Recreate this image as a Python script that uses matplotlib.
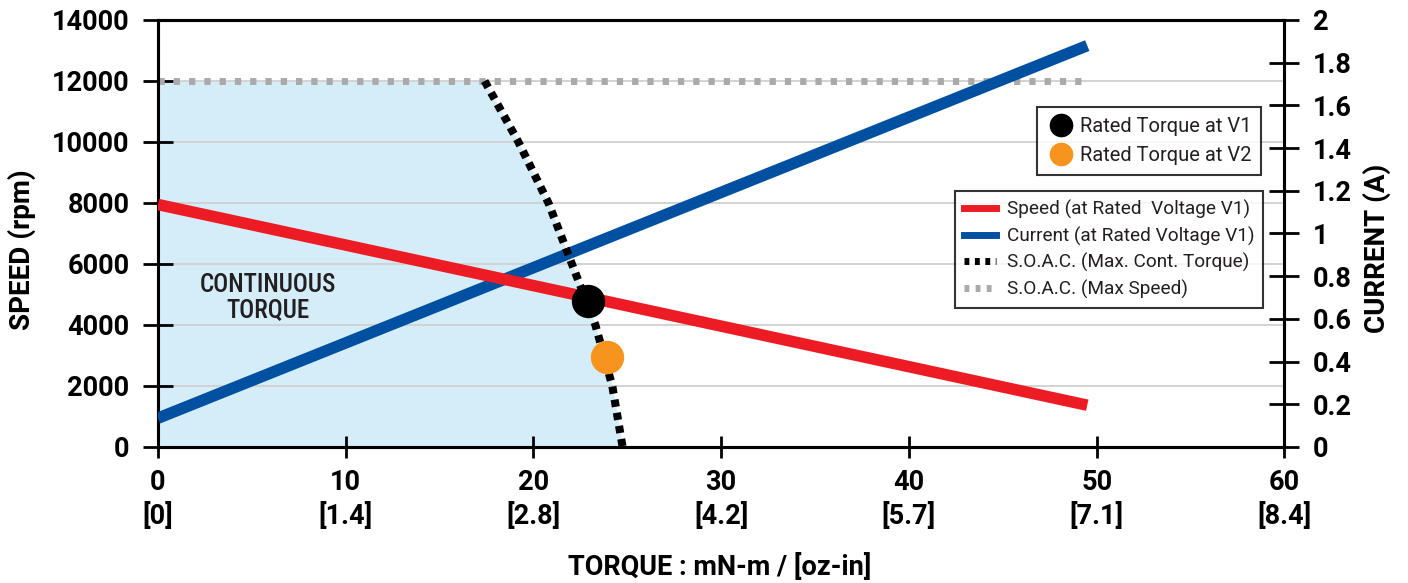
import matplotlib
matplotlib.use("Agg")
import matplotlib.pyplot as plt
from matplotlib.lines import Line2D

plt.rcParams['font.family'] = ['Roboto', 'DejaVu Sans']

# data
torque = [0, 49.5]
speed = [7950, 1370]
current = [0.135, 1.88]
max_speed_torque = [0, 49.5]
max_speed = [12000, 12000]
cont_torque = [17.4, 19.2, 20.8, 22.05, 23.3, 24.2, 24.75]
cont_speed = [12000, 10000, 8000, 6000, 4000, 2000, 0]
rated_v1 = (22.9, 4780)
rated_v2 = (23.9, 2940)

x_ticks = [0, 10, 20, 30, 40, 50, 60]
x_oz = ['[0]', '[1.4]', '[2.8]', '[4.2]', '[5.7]', '[7.1]', '[8.4]']
speed_ticks = [0, 2000, 4000, 6000, 8000, 10000, 12000, 14000]
current_ticks = [0, 0.2, 0.4, 0.6, 0.8, 1, 1.2, 1.4, 1.6, 1.8, 2]
current_labels = ['0', '0.2', '0.4', '0.6', '0.8', '1', '1.2', '1.4',
                  '1.6', '1.8', '2']

RED = '#ed1c24'
BLUE = '#0050a2'
ORANGE = '#f7941d'
GRAY = '#aaaaaa'
FILL = '#d4edf9'
TXT = '#231f20'

fig = plt.figure(figsize=(14.08, 5.83), dpi=100)
ax = fig.add_axes([0.1122, 0.2333, 0.8, 0.7324])
ax2 = ax.twinx()
ax.set_zorder(ax2.get_zorder() + 1)
ax.patch.set_visible(False)

ax.set_xlim(0, 60)
ax.set_ylim(0, 14000)
ax2.set_ylim(0, 2)

# continuous torque region
ax.fill_betweenx(cont_speed, 0, cont_torque, color=FILL, lw=0, zorder=0.5)
ax.yaxis.grid(True, color='#d0d0d0', lw=1.3, zorder=0.8)
ax.set_axisbelow(True)

ax.plot(max_speed_torque, max_speed, color=GRAY, lw=5, dashes=(0.9, 1.3),
        solid_capstyle='butt', zorder=2)
ax.plot(torque, current, color=BLUE, lw=8.3, transform=ax2.transData,
        solid_capstyle='butt', zorder=3)
ax.plot(torque, speed, color=RED, lw=8.3, solid_capstyle='butt', zorder=4)
ax.plot(cont_torque, cont_speed, color='black', lw=5.8, dashes=(0.9, 0.75),
        zorder=5)
ax.plot(*rated_v1, 'o', color='black', ms=23, zorder=6)
ax.plot(*rated_v2, 'o', color=ORANGE, ms=23, zorder=6)

ax.text(5.85, 4900, 'CONTINUOUS\nTORQUE', ha='center', va='center',
        family=['Roboto Condensed', 'Roboto'], fontsize=18,
        fontweight='medium', color=TXT, linespacing=1.05)

# axes styling
for s in list(ax.spines.values()) + list(ax2.spines.values()):
    s.set_linewidth(2.2)

ax.set_xticks(x_ticks)
ax.set_xticklabels([f'{t}\n{o}' for t, o in zip(x_ticks, x_oz)],
                   linespacing=1.25)
ax.set_yticks(speed_ticks)
ax2.set_yticks(current_ticks)
ax2.set_yticklabels(current_labels)
ax.tick_params(axis='y', direction='inout', length=21, width=2,
               labelsize=19.5, pad=10, colors='black')
ax.tick_params(axis='x', direction='inout', length=16, width=2,
               labelsize=19.5, pad=8)
ax2.tick_params(axis='y', direction='inout', length=21, width=2,
                labelsize=19.5, pad=10)
for lab in ax.get_xticklabels() + ax.get_yticklabels() + ax2.get_yticklabels():
    lab.set_fontweight('bold')

fig.text(22 / 1408, 0.572, 'SPEED (rpm)', rotation=90, ha='center',
         va='center', fontsize=20, fontweight='bold')
fig.text(1377 / 1408, 0.574, 'CURRENT (A)', rotation=90, ha='center',
         va='center', fontsize=20, fontweight='bold')
fig.text(0.5114, 0.028, 'TORQUE : mN-m / [oz-in]', ha='center',
         va='center', fontsize=19.5, fontweight='bold')

# legends
h1 = [Line2D([], [], marker='o', ls='', color='black', ms=16),
      Line2D([], [], marker='o', ls='', color=ORANGE, ms=16)]
leg1 = ax.legend(h1, ['Rated Torque at V1', 'Rated Torque at V2'],
                 loc='upper right', bbox_to_anchor=(0.9796, 0.796),
                 borderaxespad=0, fontsize=14.5, frameon=True, fancybox=False,
                 edgecolor='black', handletextpad=0.3, borderpad=0.5,
                 labelspacing=0.5, handlelength=1.3)
leg1.get_frame().set_linewidth(1.5)
for t in leg1.get_texts():
    t.set_color(TXT)
ax.add_artist(leg1)

h2 = [Line2D([], [], color=RED, lw=5),
      Line2D([], [], color=BLUE, lw=5),
      Line2D([], [], color='black', lw=5, dashes=(0.7, 0.8)),
      Line2D([], [], color=GRAY, lw=5, dashes=(0.7, 0.9))]
leg2 = ax.legend(h2, ['Speed (at Rated  Voltage V1)',
                      'Current (at Rated Voltage V1)',
                      'S.O.A.C. (Max. Cont. Torque)',
                      'S.O.A.C. (Max Speed)'],
                 loc='upper right', bbox_to_anchor=(0.981, 0.5995),
                 borderaxespad=0, fontsize=13.7, frameon=True, fancybox=False,
                 edgecolor='black', handletextpad=0.55, borderpad=0.45,
                 labelspacing=0.4, handlelength=1.7)
leg2.get_frame().set_linewidth(1.5)
for t in leg2.get_texts():
    t.set_color(TXT)

fig.savefig('out.png', dpi=100)
